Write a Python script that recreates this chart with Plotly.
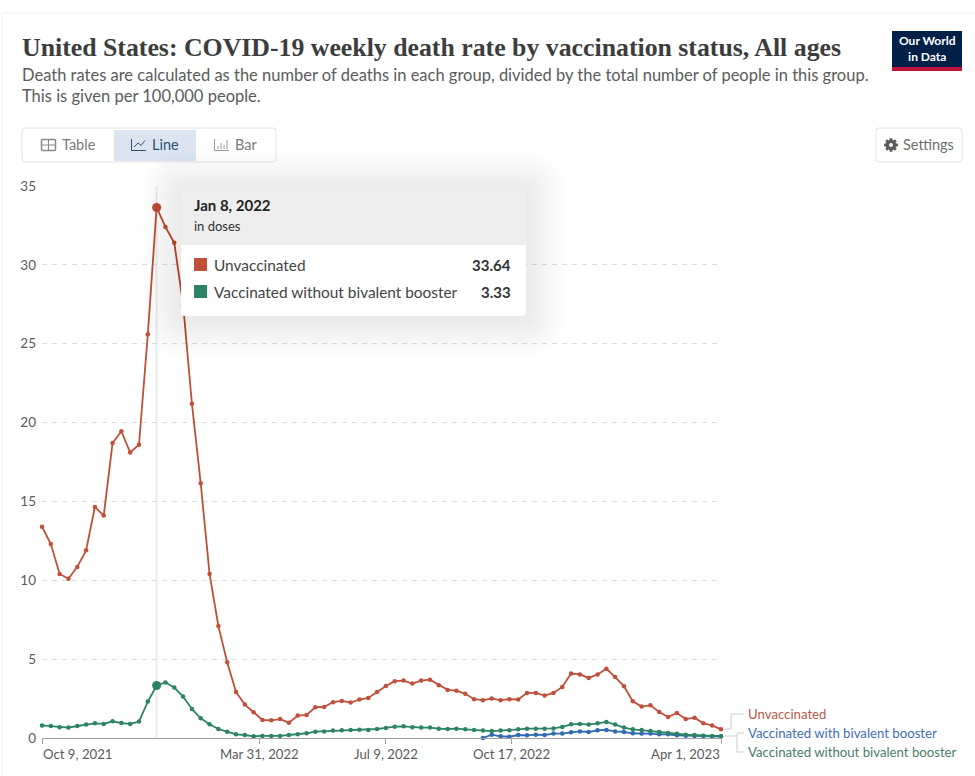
import math

import pandas as pd
import plotly.graph_objects as go

# Weekly reporting dates
weeks = pd.date_range("2021-10-09", "2023-04-01", freq="7D")

unvaccinated = [
    13.4, 12.3, 10.4, 10.1, 10.85, 11.9, 14.65, 14.1, 18.7, 19.45, 18.1, 18.6, 25.6,
    33.64, 32.4, 31.4, 27.5, 21.2, 16.15, 10.4, 7.1, 4.8, 2.92, 2.12, 1.63, 1.14,
    1.12, 1.2, 0.97, 1.42, 1.46, 1.95, 1.97, 2.27, 2.35, 2.25, 2.44, 2.54, 2.92,
    3.3, 3.6, 3.64, 3.45, 3.64, 3.7, 3.35, 3.05, 3.0, 2.8, 2.46, 2.4, 2.5, 2.4,
    2.46, 2.44, 2.86, 2.86, 2.69, 2.86, 3.24, 4.09, 4.03, 3.81, 4.03, 4.39, 3.86,
    3.28, 2.33, 1.99, 2.07, 1.65, 1.33, 1.59, 1.2, 1.29, 0.93, 0.8, 0.55,
]
without_bivalent = [
    0.8, 0.76, 0.68, 0.66, 0.76, 0.85, 0.93, 0.89, 1.06, 0.95, 0.89, 1.04, 2.31,
    3.33, 3.52, 3.2, 2.63, 1.84, 1.25, 0.87, 0.57, 0.4, 0.23, 0.19, 0.11, 0.13,
    0.13, 0.13, 0.19, 0.23, 0.3, 0.4, 0.42, 0.47, 0.49, 0.51, 0.53, 0.51, 0.57,
    0.64, 0.72, 0.74, 0.68, 0.66, 0.66, 0.59, 0.57, 0.59, 0.55, 0.51, 0.47, 0.44,
    0.47, 0.49, 0.55, 0.59, 0.59, 0.59, 0.61, 0.7, 0.87, 0.89, 0.85, 0.93, 1.02,
    0.85, 0.66, 0.55, 0.51, 0.44, 0.38, 0.32, 0.27, 0.21, 0.19, 0.15, 0.13, 0.13,
]
# The bivalent booster series begins in autumn 2022
with_bivalent_start = "2022-09-24"
with_bivalent = [
    0.0, 0.21, 0.11, 0.08, 0.19, 0.17, 0.21, 0.19, 0.28, 0.28, 0.36, 0.42, 0.38,
    0.49, 0.51, 0.42, 0.38, 0.3, 0.28, 0.28, 0.23, 0.23, 0.17, 0.15, 0.13, 0.12,
    0.1, 0.09,
]

y_ticks = [5, 10, 15, 20, 25, 30, 35]
x_ticks = ["2021-10-09", "2022-03-31", "2022-07-09", "2022-10-17", "2023-04-01"]
x_labels = ["Oct 9, 2021", "Mar 31, 2022", "Jul 9, 2022", "Oct 17, 2022", "Apr 1, 2023"]
x_anchors = ["left", "center", "center", "center", "right"]

hover_date = "2022-01-08"
hover_index = 13

RED, BLUE, GREEN = "#c0503a", "#2f6ab3", "#2c8465"
GREY = "#5b5b5b"
PLOT_L, PLOT_R, PLOT_T, PLOT_B = 42, 721, 186, 738


def px(x):
    return (x - PLOT_L) / (PLOT_R - PLOT_L)


def py(y):
    return (PLOT_B - y) / (PLOT_B - PLOT_T)


def rounded(x0, y0, x1, y1, r):
    X0, X1, Y0, Y1 = px(x0), px(x1), py(y0), py(y1)
    rx, ry = r / (PLOT_R - PLOT_L), r / (PLOT_B - PLOT_T)
    return (
        f"M{X0 + rx},{Y0} L{X1 - rx},{Y0} Q{X1},{Y0} {X1},{Y0 - ry} "
        f"L{X1},{Y1 + ry} Q{X1},{Y1} {X1 - rx},{Y1} L{X0 + rx},{Y1} "
        f"Q{X0},{Y1} {X0},{Y1 + ry} L{X0},{Y0 - ry} Q{X0},{Y0} {X0 + rx},{Y0} Z"
    )


shapes, notes = [], []


def box(x0, y0, x1, y1, fill=None, line=None, r=0, opacity=1, width=1):
    shapes.append(dict(
        type="path", path=rounded(x0, y0, x1, y1, r), xref="paper", yref="paper",
        fillcolor=fill or "rgba(0,0,0,0)", opacity=opacity, layer="above",
        line=dict(color=line or "rgba(0,0,0,0)", width=width if line else 0),
    ))


def seg(points, color, width=1):
    path = "M" + " L".join(f"{px(a)},{py(b)}" for a, b in points)
    shapes.append(dict(type="path", path=path, xref="paper", yref="paper", layer="above",
                       line=dict(color=color, width=width)))


def gear(cx, cy, outer, inner, color):
    # Eight-toothed cog outline with a white hub drawn on top
    pts = []
    for i in range(8):
        a = i * math.pi / 4
        for da, rad in [(-0.30, inner), (-0.20, outer), (0.20, outer), (0.30, inner)]:
            pts.append((cx + rad * math.cos(a + da), cy + rad * math.sin(a + da)))
    path = "M" + " L".join(f"{px(a)},{py(b)}" for a, b in pts) + " Z"
    shapes.append(dict(type="path", path=path, xref="paper", yref="paper", layer="above",
                       fillcolor=color, line=dict(width=0)))
    box(cx - 2, cy - 2, cx + 2, cy + 2, fill="white", r=2)


def label(x, y, text, size=14, color=GREY, font="Lato", anchor="left", weight=400):
    notes.append(dict(
        x=px(x), y=py(y), xref="paper", yref="paper", text=text, showarrow=False,
        xanchor=anchor, yanchor="middle", align=anchor, borderpad=0, borderwidth=0,
        font=dict(family=font, size=size, color=color, weight=weight),
    ))


# Frame edges
seg([(2, 776), (2, 13), (975, 13)], "#f0f0f0")

# Heading
label(22, 47, "United States: COVID-19 weekly death rate by vaccination status, All ages",
      size=25.8, color="#3d3d3d", font="Liberation Serif", weight=700)
label(22, 75, "Death rates are calculated as the number of deaths in each group, divided by the total number of people in this group.",
      size=16.5, color=GREY)
label(22, 96, "This is given per 100,000 people.", size=16.5, color=GREY)

# Logo
box(892, 31, 962, 71, fill="#002147")
box(892, 67, 962, 71, fill="#c0143c")
label(927, 49, "Our World<br>in Data", size=12, color="white", anchor="center", weight=700)

# View switcher
box(22, 128, 276, 162, fill="white", line="#e2e2e2", r=3)
box(114, 130, 196, 161, fill="#dbe5f0")
label(62, 144, "Table", size=14.5, color="#7a7a7a")
label(152, 144, "Line", size=14.5, color="#2d4f73")
label(235, 144, "Bar", size=14.5, color="#7a7a7a")
box(41.5, 139.5, 55.5, 150.5, line="#8a8a8a", width=1.5, r=1)
seg([(41.5, 145), (55.5, 145)], "#8a8a8a")
seg([(48.5, 139.5), (48.5, 150.5)], "#8a8a8a")
seg([(131.5, 139), (131.5, 150.5), (146, 150.5)], "#2d4f73")
seg([(134, 147), (138, 143), (141, 145.5), (145, 140.5)], "#2d4f73")
seg([(214.5, 139), (214.5, 150.5), (229, 150.5)], "#9a9a9a")
for bar_x, bar_top in [(218, 146), (221, 143), (224, 145), (227, 140)]:
    seg([(bar_x, 149), (bar_x, bar_top)], "#9a9a9a")

# Settings button
box(876, 128, 962, 162, fill="white", line="#e2e2e2", r=3)
gear(891, 145, 7, 5.2, GREY)
label(903, 144, "Settings", size=14.5, color="#6e6e6e")

# Series end labels and connectors
seg([(725, 729), (731, 729), (731, 714), (744, 714)], "#cccccc")
seg([(725, 736), (737, 736)], "#cccccc")
seg([(744, 733), (737, 733), (737, 752), (744, 752)], "#cccccc")
label(748, 714, "Unvaccinated", size=13.2, color="#bb5a4a")
label(748, 733, "Vaccinated with bivalent booster", size=13.2, color="#3f6fb0")
label(748, 752, "Vaccinated without bivalent booster", size=13.2, color="#4a7d69")

# X tick labels, anchored so the outer two stay inside the plot width
for tick, text, anchor in zip(x_ticks, x_labels, x_anchors):
    notes.append(dict(x=tick, y=0, xref="x", yref="paper", yshift=-16, text=text,
                      showarrow=False, xanchor=anchor, yanchor="middle", borderpad=0,
                      font=dict(family="Lato", size=13.2, color=GREY)))

# Tooltip: soft shadow, body, header band
for grow in range(40, 0, -2):
    box(181 - grow, 188 - grow + 2, 526 + grow, 316 + grow + 2, fill="#000000", r=grow + 4, opacity=0.0035)
box(181, 188, 526, 316, fill="white", r=4)
box(181, 188, 526, 245, fill="#eeeeee", r=4)
box(181, 240, 526, 245, fill="#eeeeee")
label(194, 205, "Jan 8, 2022", size=15, color="#222222", weight=700)
label(194, 226, "in doses", size=13, color="#333333")
box(194, 258, 207, 271, fill=RED)
box(194, 285, 207, 298, fill=GREEN)
label(214, 265, "Unvaccinated", size=15.4, color="#444444")
label(214, 292, "Vaccinated without bivalent booster", size=15.4, color="#444444")
label(511, 265, f"{unvaccinated[hover_index]:.2f}", size=15, color="#333333", anchor="right", weight=700)
label(511, 292, f"{without_bivalent[hover_index]:.2f}", size=15, color="#333333", anchor="right", weight=700)

fig = go.Figure()


def series(name, x, y, color):
    fig.add_trace(go.Scatter(
        x=x, y=y, name=name, mode="lines+markers", cliponaxis=False,
        line=dict(color=color, width=1.8), marker=dict(color=color, size=4.5),
    ))


series("Unvaccinated", weeks, unvaccinated, RED)
series("Vaccinated with bivalent booster",
       pd.date_range(with_bivalent_start, periods=len(with_bivalent), freq="7D"), with_bivalent, BLUE)
series("Vaccinated without bivalent booster", weeks, without_bivalent, GREEN)

# Highlighted points on the hovered date
fig.add_trace(go.Scatter(
    x=[hover_date, hover_date],
    y=[unvaccinated[hover_index], without_bivalent[hover_index]],
    mode="markers", cliponaxis=False,
    marker=dict(color=[RED, GREEN], size=9),
))

fig.add_shape(type="line", x0=hover_date, x1=hover_date, y0=0, y1=35, xref="x", yref="y",
              layer="below", line=dict(color="#ececec", width=2))
for s in shapes:
    fig.add_shape(**s)

fig.update_layout(
    width=975, height=776, showlegend=False, plot_bgcolor="white", paper_bgcolor="white",
    margin=dict(l=PLOT_L, r=975 - PLOT_R, t=PLOT_T, b=776 - PLOT_B, autoexpand=False),
    font=dict(family="Lato", color=GREY),
    annotations=notes,
    xaxis=dict(
        type="date", range=["2021-10-09", "2023-04-01"], tickmode="array", tickvals=x_ticks,
        showticklabels=False, showgrid=False, zeroline=False, showline=True,
        linecolor="#a0a0a0", linewidth=1, ticks="outside", ticklen=5, tickcolor="#a0a0a0",
    ),
    yaxis=dict(
        range=[0, 35], tickmode="array", tickvals=[0] + y_ticks, ticks="", showline=False,
        zeroline=False, gridcolor="#dddddd", griddash="5px,5px", gridwidth=1,
        tickfont=dict(family="Lato", size=13.5, color=GREY), ticklabelstandoff=5,
    ),
)

fig.write_html("out.html", config=dict(displayModeBar=False))
